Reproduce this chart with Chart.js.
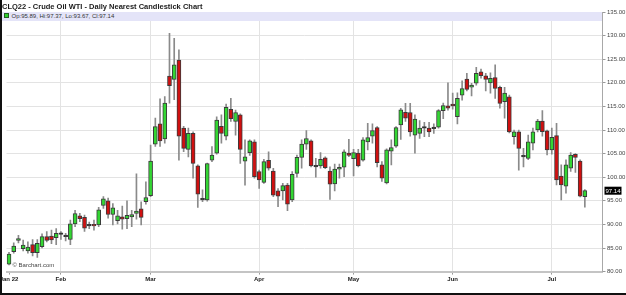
<!DOCTYPE html>
<html><head><meta charset="utf-8">
<script src="https://cdn.jsdelivr.net/npm/chart.js@4"></script>
<style>
html,body{margin:0;padding:0;background:#fff;}
#wrap{position:relative;width:626px;height:295px;overflow:hidden;font-family:"Liberation Sans",Arial,sans-serif;background:#fff;}
#c{position:absolute;left:0;top:0;}
#title{position:absolute;left:2px;top:2.5px;font-weight:bold;font-size:7.5px;line-height:1;color:#1a1a1a;white-space:nowrap;}
#band{position:absolute;left:2px;top:12px;width:600px;height:9px;background:#e4e4f8;font-size:6px;line-height:9px;color:#333;white-space:nowrap;}
#band .sq{display:inline-block;width:3px;height:3px;background:#2fd02f;border:0.5px solid #235c23;margin:0 3px 0 1.5px;vertical-align:0px;}
#wm{position:absolute;left:12.5px;top:261.5px;font-size:6px;line-height:6px;color:#444;white-space:nowrap;}
#bl{position:absolute;left:0;top:0;width:1.5px;height:295px;background:#111;}
#bb{position:absolute;left:0;top:292.5px;width:626px;height:2.5px;background:#111;}
</style></head>
<body>
<div id="wrap">
<canvas id="c" width="626" height="295"></canvas>
<div id="title">CLQ22 - Crude Oil WTI - Daily Nearest Candlestick Chart</div>
<div id="band"><span class="sq"></span>Op:95.89, Hi:97.37, Lo:93.67, Cl:97.14</div>
<div id="wm">© Barchart.com</div>
<div id="bl"></div><div id="bb"></div>
</div>
<script>
const dates = [
 '2022-01-14','2022-01-18','2022-01-19','2022-01-20','2022-01-21','2022-01-24','2022-01-25','2022-01-26','2022-01-27','2022-01-28','2022-01-31',
 '2022-02-01','2022-02-02','2022-02-03','2022-02-04','2022-02-07','2022-02-08','2022-02-09','2022-02-10','2022-02-11','2022-02-14','2022-02-15','2022-02-16','2022-02-17','2022-02-18','2022-02-22','2022-02-23','2022-02-24','2022-02-25','2022-02-28',
 '2022-03-01','2022-03-02','2022-03-03','2022-03-04','2022-03-07','2022-03-08','2022-03-09','2022-03-10','2022-03-11','2022-03-14','2022-03-15','2022-03-16','2022-03-17','2022-03-18','2022-03-21','2022-03-22','2022-03-23','2022-03-24','2022-03-25','2022-03-28','2022-03-29','2022-03-30','2022-03-31',
 '2022-04-01','2022-04-04','2022-04-05','2022-04-06','2022-04-07','2022-04-08','2022-04-11','2022-04-12','2022-04-13','2022-04-14','2022-04-18','2022-04-19','2022-04-20','2022-04-21','2022-04-22','2022-04-25','2022-04-26','2022-04-27','2022-04-28','2022-04-29',
 '2022-05-02','2022-05-03','2022-05-04','2022-05-05','2022-05-06','2022-05-09','2022-05-10','2022-05-11','2022-05-12','2022-05-13','2022-05-16','2022-05-17','2022-05-18','2022-05-19','2022-05-20','2022-05-23','2022-05-24','2022-05-25','2022-05-26','2022-05-27','2022-05-31',
 '2022-06-01','2022-06-02','2022-06-03','2022-06-06','2022-06-07','2022-06-08','2022-06-09','2022-06-10','2022-06-13','2022-06-14','2022-06-15','2022-06-16','2022-06-17','2022-06-21','2022-06-22','2022-06-23','2022-06-24','2022-06-27','2022-06-28','2022-06-29','2022-06-30',
 '2022-07-01','2022-07-05','2022-07-06','2022-07-07','2022-07-08','2022-07-11','2022-07-12','2022-07-13'
];
const openP = [
 81.6,84.2,86.6,84.85,84.4,85.7,84.0,85.3,87.4,87.5,87.2,
 87.9,87.4,86.8,90.1,91.8,91.5,89.9,90.0,89.9,94.0,95.0,92.1,90.8,91.6,91.2,91.6,92.35,93.3,94.8,
 96.1,107.0,111.3,108.1,121.4,120.7,124.8,110.4,105.9,109.3,102.4,95.3,95.2,103.6,105.1,110.8,108.7,114.4,111.8,113.2,103.4,105.2,107.5,
 101.2,98.9,103.6,101.3,97.1,97.1,98.35,95.2,100.8,104.2,107.0,107.7,102.3,102.4,104.1,101.3,98.6,101.7,102.1,105.1,
 103.9,105.1,103.6,107.5,108.7,110.5,102.6,98.8,105.5,106.6,111.1,113.75,113.7,108.9,109.3,110.5,110.4,110.4,110.6,114.1,115.1,
 115.5,112.8,117.4,120.8,119.05,119.9,122.35,121.5,120.0,121.1,119.05,116.0,117.05,108.6,109.6,104.4,104.0,107.2,110.0,111.9,109.85,
 105.8,108.8,100.25,98.1,101.9,104.85,103.4,95.89
];
const highP = [
 84.1,86.1,87.7,86.7,86.3,86.8,86.8,88.0,88.5,88.8,89.1,
 88.5,88.1,90.9,93.0,92.35,92.0,90.5,90.9,93.6,95.9,95.6,94.4,93.0,93.9,95.0,93.0,100.7,94.8,99.0,
 106.8,112.5,116.6,117.1,130.5,129.4,127.0,110.8,110.4,109.6,102.6,97.3,103.0,106.5,112.8,113.2,115.5,116.7,114.2,113.4,107.9,107.9,107.9,
 101.5,103.8,105.4,101.9,97.6,98.7,98.7,101.2,104.7,107.9,109.9,107.9,104.0,105.2,104.3,102.2,102.8,102.8,105.8,108.0,
 105.9,105.9,108.4,111.4,111.3,110.7,103.3,106.0,107.9,110.7,114.6,115.65,115.65,113.2,112.0,111.6,111.6,111.3,114.3,115.7,120.0,
 117.8,117.9,120.4,122.0,119.9,123.3,122.9,122.0,122.1,123.8,119.3,119.05,117.4,110.0,110.0,106.1,108.9,110.4,112.25,114.1,110.0,
 110.4,111.4,102.6,103.7,105.2,105.0,103.7,97.37
];
const lowP = [
 81.4,83.9,86.1,84.4,83.9,83.3,83.0,85.0,86.3,85.9,85.7,
 86.8,86.5,85.7,89.5,90.6,88.5,89.1,88.8,89.5,93.4,91.3,89.9,90.1,89.0,89.1,89.5,91.1,89.9,94.3,
 95.9,106.5,106.5,107.2,115.7,116.4,103.6,105.4,104.3,99.8,93.6,94.8,94.9,103.3,104.9,107.2,107.9,111.8,108.9,102.9,98.3,104.6,99.8,
 97.6,98.7,101.5,95.9,93.75,95.2,92.9,94.8,100.0,101.9,105.9,102.2,100.0,101.9,101.8,95.3,97.1,99.8,100.1,104.35,
 100.25,102.2,103.4,105.8,107.2,102.2,99.1,98.6,102.6,106.3,108.0,111.8,108.7,105.1,108.2,108.6,108.6,109.3,110.4,112.4,114.2,
 114.4,111.3,116.3,118.3,117.2,119.5,121.0,118.3,117.8,116.7,114.6,112.5,109.4,107.0,101.5,102.2,103.7,105.8,109.6,108.7,104.7,
 104.9,98.35,95.2,96.6,101.2,101.0,95.8,93.67
];
const closeP = [
 83.7,85.4,87.0,85.6,85.2,84.0,86.0,87.4,86.6,86.7,88.1,
 88.0,87.5,90.1,92.3,91.2,89.2,89.7,89.7,93.1,95.4,92.1,93.5,91.8,91.1,91.9,92.1,92.8,91.5,95.7,
 103.4,110.7,107.7,115.7,119.4,123.8,108.7,106.1,109.3,102.9,96.4,95.2,102.9,104.7,112.1,109.3,114.8,112.4,113.7,105.9,104.3,107.7,100.1,
 99.4,103.3,101.9,96.2,96.0,98.2,94.3,100.6,104.2,107.0,108.2,102.4,102.2,103.8,102.0,98.5,101.7,102.1,105.4,104.6,
 105.2,102.4,107.9,108.4,109.9,103.1,99.8,105.8,106.25,110.5,114.25,112.5,109.6,112.3,110.4,110.4,109.6,110.3,114.1,115.15,114.6,
 115.1,116.7,118.8,118.6,119.5,122.0,121.5,120.7,120.95,118.8,115.65,117.8,109.6,109.6,106.1,104.3,107.5,109.6,111.9,109.65,105.8,
 108.45,99.4,98.35,102.6,104.7,104.2,96.0,97.14
];
const monthStartDates = ['2022-01-14','2022-02-01','2022-03-01','2022-04-01','2022-05-02','2022-06-01','2022-07-01'];
const monthLabels = ['Jan 22','Feb','Mar','Apr','May','Jun','Jul'];
const yMin = 80, yMax = 135, yStep = 5;

const monthIdx = monthStartDates.map(d => dates.indexOf(d));
const FONT = "'Liberation Sans', Arial, sans-serif";

function bodyColor(i){
  const d = closeP[i]-openP[i];
  if (Math.abs(d) < 0.25) return '#222';
  return d > 0 ? '#33d633' : '#d01010';
}

const lastPricePlugin = {
  id:'lastPrice',
  afterDraw(chart){
    const y = chart.scales.y;
    const v = closeP[closeP.length-1];
    const py = y.getPixelForValue(v);
    const ctx = chart.ctx;
    ctx.save();
    ctx.fillStyle = '#000';
    ctx.fillRect(y.left+2, py-4, 17, 8);
    ctx.fillStyle = '#fff';
    ctx.font = '6px ' + FONT;
    ctx.textBaseline = 'middle';
    ctx.textAlign = 'left';
    ctx.fillText(v.toFixed(2), y.left+3, py+0.5);
    ctx.restore();
  }
};

new Chart(document.getElementById('c'), {
  type:'bar',
  data:{
    labels: dates,
    datasets:[
      {
        label:'body',
        data: dates.map((d,i)=>({x:i, y:[openP[i], closeP[i]]})),
        backgroundColor: dates.map((d,i)=>bodyColor(i)),
        borderColor: '#3a3a3a',
        borderWidth: 1,
        borderSkipped: false,
        barThickness: 4,
        minBarLength: 1.5,
        grouped: false,
        order: 1
      },
      {
        label:'wick',
        data: dates.map((d,i)=>({x:i, y:[lowP[i], highP[i]]})),
        backgroundColor: '#8a8a8a',
        borderWidth: 0,
        barThickness: 1,
        grouped: false,
        order: 2
      }
    ]
  },
  options:{
    responsive:false,
    animation:false,
    events:[],
    layout:{padding:{left:6.5, top:12, right:0, bottom:0}},
    plugins:{legend:{display:false}, tooltip:{enabled:false}, title:{display:false}},
    scales:{
      x:{
        type:'linear', min:-0.53, max:125.74, bounds:'data', offset:false,
        afterBuildTicks(s){ s.ticks = monthIdx.map(v=>({value:v})); },
        afterFit(s){ s.height = 23.4; s.paddingLeft = 0; s.paddingRight = 0; },
        ticks:{autoSkip:false, maxRotation:0, minRotation:0, padding:1.5, color:'#222',
          font:{size:6, weight:'bold', family:FONT},
          callback:(v,i)=>monthLabels[i]},
        grid:{offset:false, color:(c)=> c.index===0 ? 'rgba(0,0,0,0)' : '#e3e3e3', tickColor:'#9a9a9a', tickLength:3, lineWidth:1},
        border:{color:'#c4c4c4', width:2}
      },
      y:{
        position:'right', min:yMin, max:yMax,
        afterFit(s){ s.width = 23.5; },
        ticks:{stepSize:yStep, padding:1.5, color:'#444', font:{size:6, family:FONT},
          callback:(v)=>Number(v).toFixed(2)},
        grid:{color:'#e3e3e3', tickColor:'#9a9a9a', tickLength:3, lineWidth:1},
        border:{color:'#a8a8a8', width:1}
      }
    }
  },
  plugins:[lastPricePlugin]
});
</script>
</body></html>
